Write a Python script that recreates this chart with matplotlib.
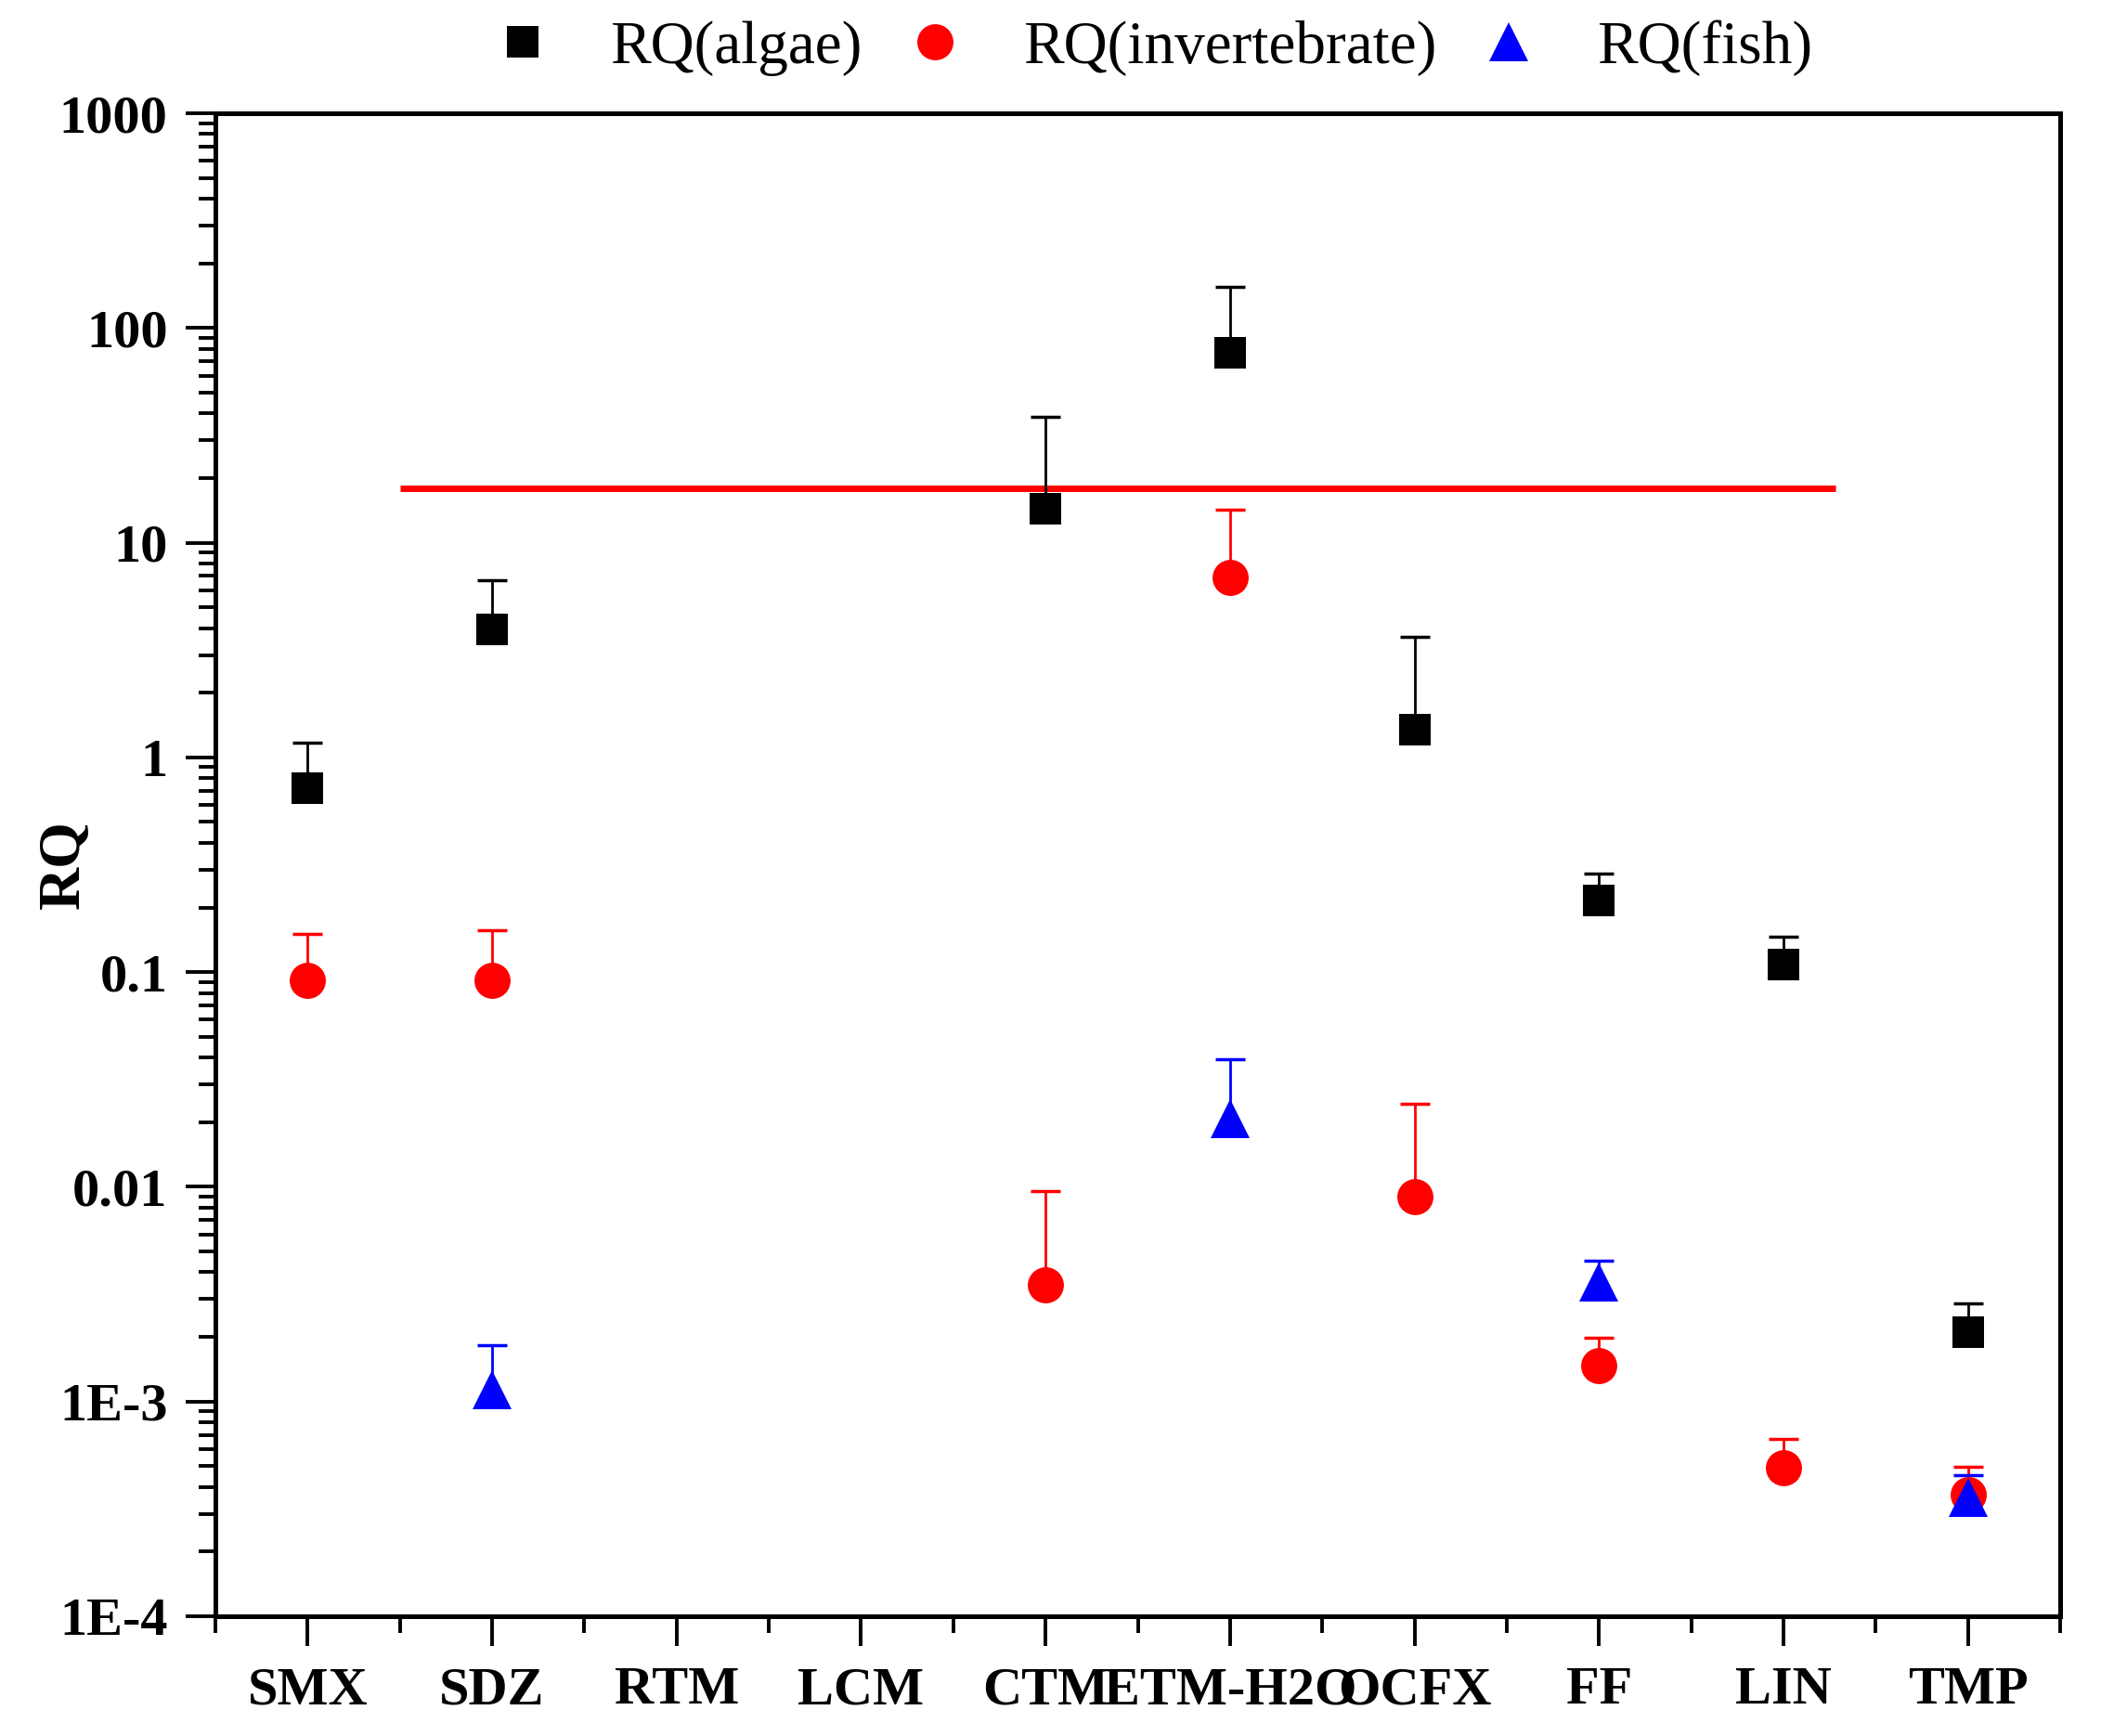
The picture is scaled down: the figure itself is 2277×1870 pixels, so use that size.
import numpy as np
import matplotlib
matplotlib.use("Agg")
import matplotlib.pyplot as plt

plt.rcParams['font.family'] = ['Liberation Serif', 'DejaVu Serif']

nan = np.nan
drugs = ['SMX', 'SDZ', 'RTM', 'LCM', 'CTM', 'ETM-H2O', 'OCFX', 'FF', 'LIN', 'TMP']

# mean RQ and top of the (upper only) error bar
rq_algae = [0.72, 3.94, nan, nan, 14.4, 77.0, 1.34, 0.216, 0.108, 0.0021]
rq_algae_top = [1.17, 6.7, nan, nan, 38.7, 155.0, 3.63, 0.288, 0.146, 0.00286]
rq_invert = [0.092, 0.092, nan, nan, 0.0035, 6.92, 0.0090, 0.00147, 0.00049, 0.000369]
rq_invert_top = [0.150, 0.157, nan, nan, 0.0096, 14.2, 0.0243, 0.00198, 0.00067, 0.000497]
rq_fish = [nan, 0.00114, nan, nan, nan, 0.0207, nan, 0.0036, nan, 0.000358]
rq_fish_top = [nan, 0.00183, nan, nan, nan, 0.0392, nan, 0.00455, nan, 0.000455]

# horizontal threshold line
thr_x = [1.5, 9.28]
thr_y = [18, 18]

ytick_vals = [1e-4, 1e-3, 0.01, 0.1, 1, 10, 100, 1000]
ytick_labels = ['1E-4', '1E-3', '0.01', '0.1', '1', '10', '100', '1000']

x = np.arange(1, len(drugs) + 1)

fig = plt.figure(figsize=(22.77, 18.70), dpi=100)
ax = fig.add_axes([232/2277, 1 - 1741/1870, (2219-232)/2277, (1741-122)/1870])

series = [
    (rq_algae, rq_algae_top, 'black', 's', 24.5, 'RQ(algae)'),
    (rq_invert, rq_invert_top, 'red', 'o', 28, 'RQ(invertebrate)'),
    (rq_fish, rq_fish_top, 'blue', '^', 30, 'RQ(fish)'),
]

handles = []
for vals, tops, col, mk, ms, lab in series:
    v = np.array(vals)
    t = np.array(tops)
    ok = ~np.isnan(v)
    # upper error bar only: stem + cap
    ax.vlines(x[ok], v[ok], t[ok], color=col, linewidth=2, zorder=2)
    ax.plot(x[ok], t[ok], '_', color=col, markersize=23, markeredgewidth=2.5,
            linestyle='none', zorder=2)
    h, = ax.plot(x, v, mk, color=col, markersize=ms, markeredgewidth=0,
                 linestyle='none', label=lab, zorder=3)
    handles.append(h)

ax.plot(thr_x, thr_y, color='red', linewidth=5, solid_capstyle='butt', zorder=1)

ax.set_yscale('log')
ax.set_ylim(1e-4, 1000)
ax.set_xlim(0.5, 10.5)

ax.set_yticks(ytick_vals)
ax.set_yticklabels(ytick_labels)
ax.set_xticks(x)
ax.set_xticklabels(drugs)
ax.set_xticks(np.arange(0.5, 11, 1), minor=True)

for lab in ax.get_xticklabels() + ax.get_yticklabels():
    lab.set_fontweight('bold')
    lab.set_fontsize(42)

ax.tick_params(axis='both', which='major', direction='out', length=23, width=2.8, pad=14)
ax.tick_params(axis='both', which='minor', direction='out', length=13, width=2.8)
ax.tick_params(axis='x', which='major', pad=16)

for sp in ax.spines.values():
    sp.set_linewidth(3.6)

ax.set_ylabel('RQ', fontsize=46, fontweight='bold')
ax.yaxis.label.set_va('center')
ax.yaxis.set_label_coords((70-232)/1987, 0.5)

fig.legend(handles=handles, loc='center', bbox_to_anchor=(1241/2277, 1 - 52/1870),
           ncol=3, frameon=False, fontsize=47, handlelength=1.0,
           handletextpad=0.95, columnspacing=0.7, borderaxespad=0)

fig.savefig('out.png', dpi=100)
